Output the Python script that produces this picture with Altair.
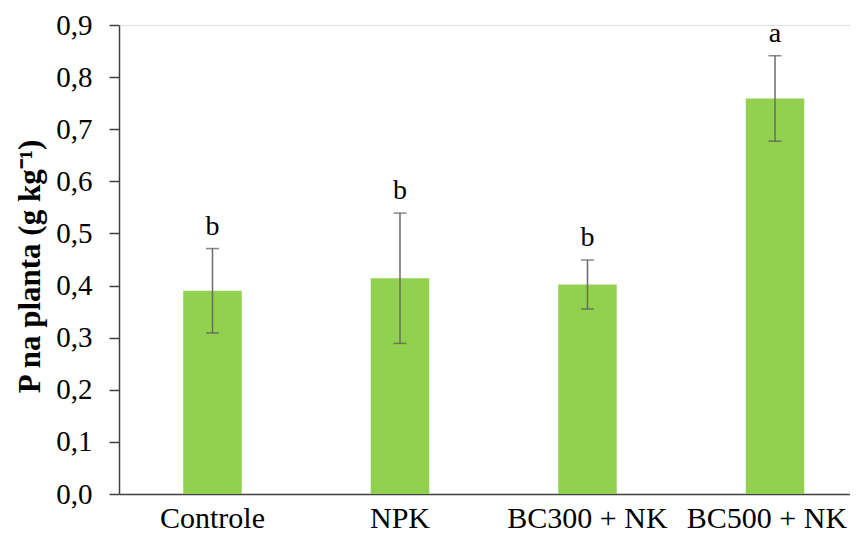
import altair as alt
import pandas as pd

categories = ["Controle", "NPK", "BC300 + NK", "BC500 + NK"]
means = [0.39, 0.414, 0.402, 0.759]
errors = [0.081, 0.125, 0.047, 0.082]
letters = ["b", "b", "b", "a"]

df = pd.DataFrame({
    "cat": categories,
    "mean": means,
    "err": errors,
    "letter": letters,
})
df["lo"] = df["mean"] - df["err"]
df["hi"] = df["mean"] + df["err"]

FONT = "'Liberation Serif', 'Times New Roman', serif"

xscale = alt.Scale(domain=categories, paddingInner=0.688, paddingOuter=0.2933, align=0.584)
yscale = alt.Scale(domain=[0, 0.9], nice=False, zero=True)

x = alt.X("cat:N", scale=xscale, sort=categories, title=None,
          axis=alt.Axis(labelAngle=0, labelFont=FONT, labelFontSize=30, labelColor="#000000",
                        labelPadding=9, ticks=False, domainColor="#404040", domainWidth=1.5,
                        labelLimit=300,
                        labelOffset={"condition": {"test": "datum.value === 'BC500 + NK'", "value": -8},
                                     "value": 0}))

base = alt.Chart(df)

bars = base.mark_bar(color="#92D050").encode(
    x=x,
    y=alt.Y("mean:Q", scale=yscale,
            title="P na planta (g kg⁻¹)",
            axis=alt.Axis(values=[0, 0.1, 0.2, 0.3, 0.4, 0.5, 0.6, 0.7, 0.8, 0.9],
                          labelExpr="replace(format(datum.value, '.1f'), '.', ',')",
                          labelFont=FONT, labelFontSize=29, labelColor="#000000",
                          labelPadding=17, tickSize=10, tickColor="#404040", tickWidth=1.5,
                          domainColor="#404040", domainWidth=1.5, grid=False,
                          titleFont=FONT, titleFontSize=31, titleFontWeight="bold",
                          titleColor="#000000", titlePadding=9, titleY=241)),
)

rules = base.mark_rule(color="#6b6b6b", strokeWidth=1.5).encode(
    x=alt.X("cat:N", scale=xscale, sort=categories),
    y=alt.Y("lo:Q", scale=yscale),
    y2="hi:Q",
)

caps_hi = base.mark_tick(color="#555555", thickness=1.5, size=13, orient="horizontal").encode(
    x=alt.X("cat:N", scale=xscale, sort=categories),
    y=alt.Y("hi:Q", scale=yscale),
)
caps_lo = base.mark_tick(color="#555555", thickness=1.5, size=13, orient="horizontal").encode(
    x=alt.X("cat:N", scale=xscale, sort=categories),
    y=alt.Y("lo:Q", scale=yscale),
)

labels = base.mark_text(font=FONT, fontSize=28, color="#000000", dy=-14, baseline="alphabetic").encode(
    x=alt.X("cat:N", scale=xscale, sort=categories),
    y=alt.Y("hi:Q", scale=yscale),
    text="letter:N",
)

chart = alt.layer(bars, rules, caps_hi, caps_lo, labels).properties(
    width=731, height=469,
    padding={"left": 111, "top": 17, "right": 0, "bottom": 41},
    autosize=alt.AutoSizeParams(type="none"),
).configure_view(stroke=None).configure(background="white")

chart.save("out.html", embed_options={"renderer": "svg", "actions": False})
